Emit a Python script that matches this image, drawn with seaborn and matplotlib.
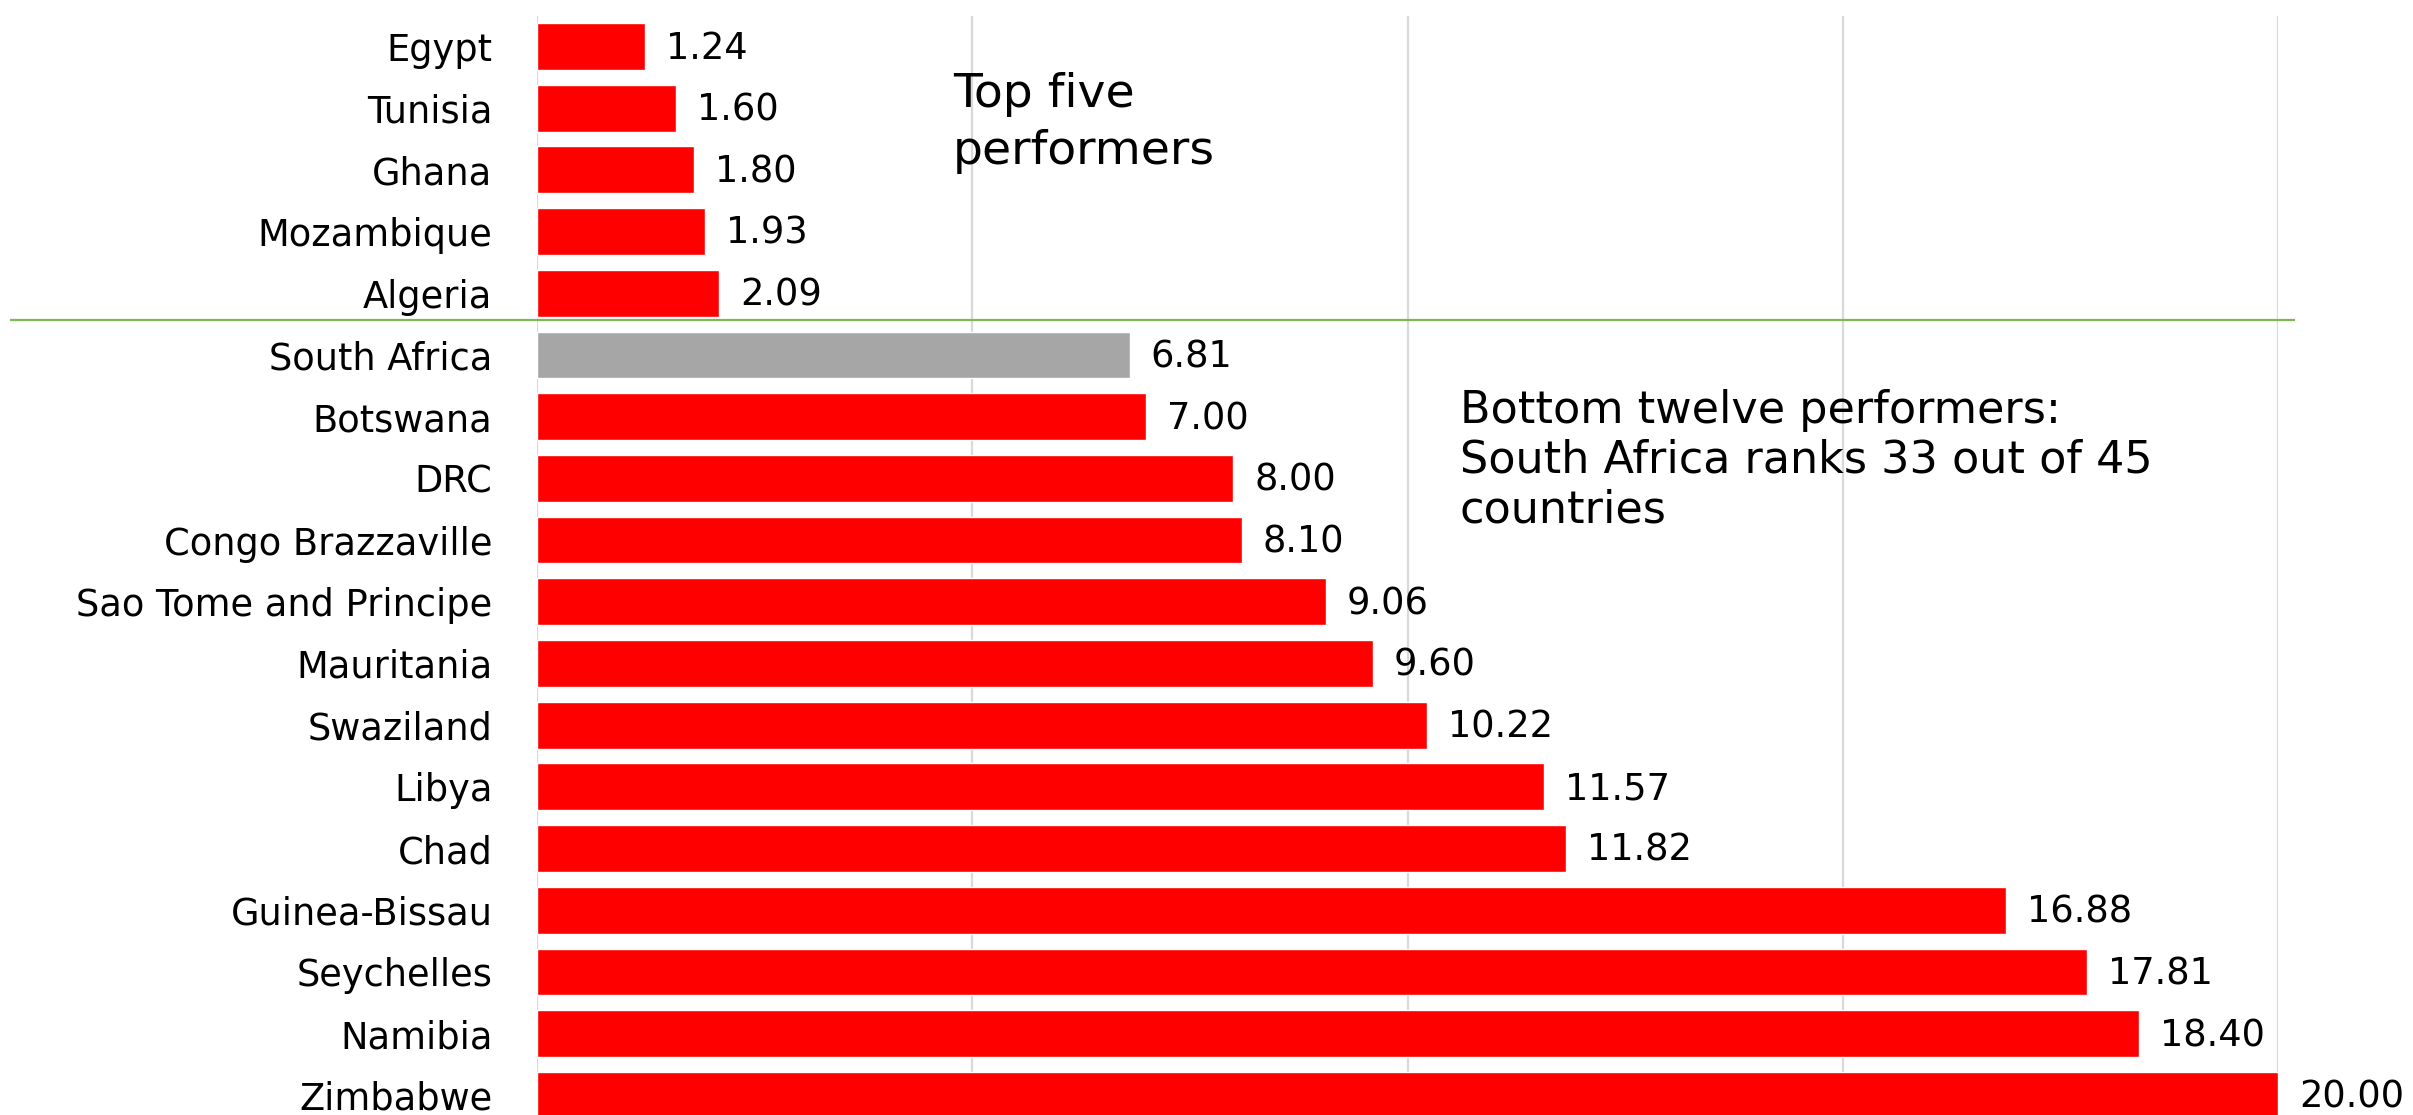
import matplotlib
matplotlib.use("Agg")
import matplotlib.pyplot as plt
import seaborn as sns
import pandas as pd

# Country scores, best performers first
countries = [
    "Egypt", "Tunisia", "Ghana", "Mozambique", "Algeria",
    "South Africa", "Botswana", "DRC", "Congo Brazzaville",
    "Sao Tome and Principe", "Mauritania", "Swaziland", "Libya",
    "Chad", "Guinea-Bissau", "Seychelles", "Namibia", "Zimbabwe",
]
values = [
    1.24, 1.60, 1.80, 1.93, 2.09,
    6.81, 7.00, 8.00, 8.10,
    9.06, 9.60, 10.22, 11.57,
    11.82, 16.88, 17.81, 18.40, 20.00,
]
highlight = "South Africa"
n_top = 5
x_ticks = [0, 5, 10, 15, 20]

RED = "#FF0000"
GREY = "#A6A6A6"
GREEN = "#7CB955"
GRID = "#D9D9D9"

df = pd.DataFrame({"country": countries, "value": values})
palette = {c: (GREY if c == highlight else RED) for c in countries}

sns.set_theme(style="white")
plt.rcParams["font.family"] = ["DejaVu Sans"]

W, H, DPI = 2413, 1115, 100
fig = plt.figure(figsize=(W / DPI, H / DPI), dpi=DPI)

# axes box in pixels: x from 537 to 2278, top at 15.6, 61.7 px per category row
left_px, right_px, top_px, row_px = 537, 2278, 15.6, 61.7
ax_h_px = row_px * len(countries)
ax = fig.add_axes([
    left_px / W,
    1 - (top_px + ax_h_px) / H,
    (right_px - left_px) / W,
    ax_h_px / H,
])

sns.barplot(
    data=df, y="country", x="value", hue="country", palette=palette,
    order=countries, hue_order=countries, legend=False, orient="h",
    width=0.76, saturation=1, ax=ax,
)

ax.set_xlim(0, 20)
ax.set_ylim(len(countries) - 0.5, -0.5)
ax.set_xticks(x_ticks)
ax.set_xticklabels([])
ax.set_xlabel("")
ax.set_ylabel("")
ax.set_axisbelow(True)
ax.xaxis.grid(True, color=GRID, linewidth=1.6)
ax.yaxis.grid(False)
for s in ax.spines.values():
    s.set_visible(False)
ax.tick_params(axis="both", length=0)
ax.tick_params(axis="y", pad=32, labelsize=26.5, labelcolor="#000000")

# value labels to the right of each bar
for i, v in enumerate(values):
    ax.text(v + 0.24, i + 0.03, f"{v:.2f}", va="center", ha="left",
            fontsize=26.5, color="#000000", clip_on=False)

# separator between the top five and the rest
ax.plot([-6.05, 20.2], [n_top - 0.56, n_top - 0.56], color=GREEN,
        linewidth=1.6, clip_on=False, solid_capstyle="butt")

ax.text(4.78, 1.24, "Top five\nperformers", fontsize=34, va="center",
        ha="left", linespacing=1.32, color="#000000")
ax.text(10.6, 6.7, "Bottom twelve performers:\nSouth Africa ranks 33 out of 45\ncountries",
        fontsize=32, va="center", ha="left", linespacing=1.2, color="#000000")

fig.savefig("out.png", dpi=DPI)
